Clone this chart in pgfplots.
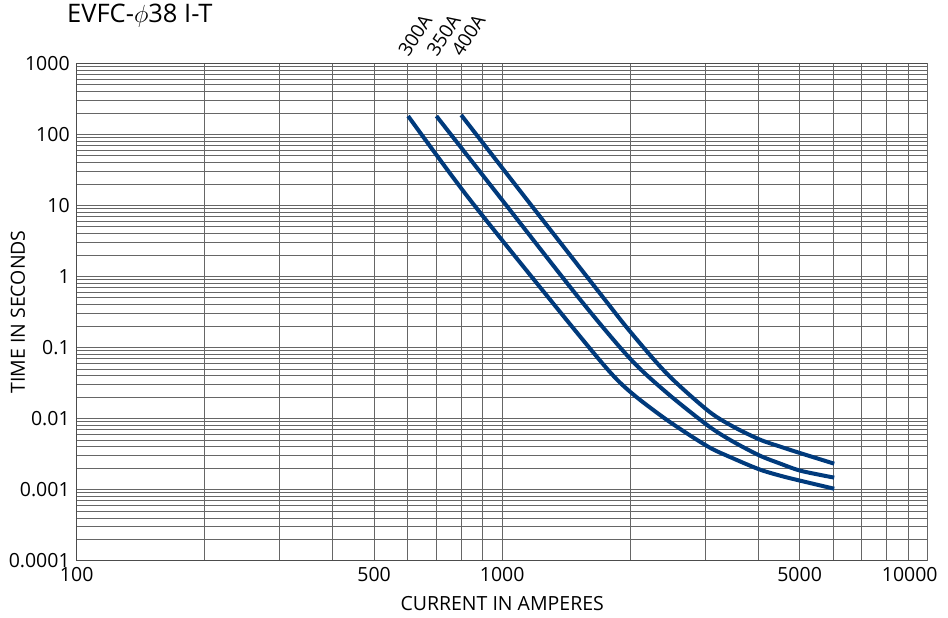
\documentclass[border=0pt]{standalone}
\usepackage{pgfplots}
\pgfplotsset{compat=1.18}
\usepackage{fontspec}
\setmainfont{Open Sans}
\definecolor{curve}{RGB}{0,58,124}
\newcommand{\lblfont}{\fontsize{19.5bp}{23bp}\selectfont}
\newcommand{\crvfont}{\fontsize{19bp}{22bp}\selectfont}
\begin{document}
\begin{tikzpicture}
\path[use as bounding box] (-76.7bp,-57.3bp) rectangle (871.3bp,560.7bp);
\begin{axis}[
 at={(0,0)}, anchor=south west,
 scale only axis, width=851bp, height=497.4bp,
 xmode=log, ymode=log,
 xmin=100, xmax=10000, ymin=0.0001, ymax=1000,
 xtick={100,500,1000,5000},
 xticklabels={100,500,1000,5000},
 extra x ticks={10000},
 extra x tick labels={10000},
 extra x tick style={xticklabel style={xshift=-18bp}},
 minor xtick={200,300,400,600,700,800,900,2000,3000,4000,6000,7000,8000,9000},
 ytick={0.0001,0.001,0.01,0.1,1,10,100,1000},
 yticklabels={0.0001,0.001,0.01,0.1,1,10,100,1000},
 minor ytick={0.0002,0.0003,0.0004,0.0005,0.0006,0.0007,0.0008,0.0009,
   0.002,0.003,0.004,0.005,0.006,0.007,0.008,0.009,
   0.02,0.03,0.04,0.05,0.06,0.07,0.08,0.09,
   0.2,0.3,0.4,0.5,0.6,0.7,0.8,0.9,
   2,3,4,5,6,7,8,9,
   20,30,40,50,60,70,80,90,
   200,300,400,500,600,700,800,900},
 grid=both,
 major grid style={black!60, line width=0.8bp},
 minor grid style={black!60, line width=0.8bp},
 major tick length=0pt, minor tick length=0pt,
 axis line style={black!70, line width=0.9bp},
 ticklabel style={font=\lblfont},
 xticklabel style={yshift=-2.8bp},
 yticklabel style={xshift=-3.5bp},
 /pgf/number format/assume math mode=true,
 xlabel={CURRENT IN AMPERES}, ylabel={TIME IN SECONDS},
 label style={font=\lblfont},
 xlabel style={at={(axis description cs:0.5,-0.0991)}, anchor=base},
 ylabel style={at={(axis description cs:-0.0608,0.5)}, anchor=base},
 clip=false,
]
\addplot[curve, line width=4bp, smooth] coordinates {
 (601,181) (827.3,13.52) (1299,0.4636) (1751,0.0528) (2004,0.02347) (2445,0.00946)
 (3037,0.004073) (3444,0.00285) (4017,0.001932) (4516,0.001564) (5034,0.00133) (6029,0.00103)};
\addplot[curve, line width=4bp, smooth] coordinates {
 (700.5,181) (1000,11.88) (1529,0.4636) (2004,0.0684) (2445,0.0227)
 (3037,0.00805) (3444,0.00495) (4017,0.00304) (4516,0.002309) (5034,0.00184) (6029,0.001476)};
\addplot[curve, line width=4bp, smooth] coordinates {
 (801,187) (1145,11.88) (1703,0.563) (2004,0.1643) (2445,0.04206)
 (3037,0.0131) (3444,0.00805) (4017,0.00511) (4516,0.004007) (5034,0.003246) (6029,0.00232)};
\node[xshift=1bp, yshift=5bp, rotate=57, anchor=south west, inner sep=0, font=\crvfont] at (axis cs:600,1000) {300A};
\node[xshift=1bp, yshift=5bp, rotate=57, anchor=south west, inner sep=0, font=\crvfont] at (axis cs:700,1000) {350A};
\node[xshift=1bp, yshift=5bp, rotate=57, anchor=south west, inner sep=0, font=\crvfont] at (axis cs:800,1000) {400A};
\end{axis}
\node[anchor=base west, inner sep=0, font=\fontsize{25.5bp}{30bp}\selectfont] at (-9.7bp,537.7bp) {EVFC-$\phi$38 I-T};
\end{tikzpicture}
\end{document}
